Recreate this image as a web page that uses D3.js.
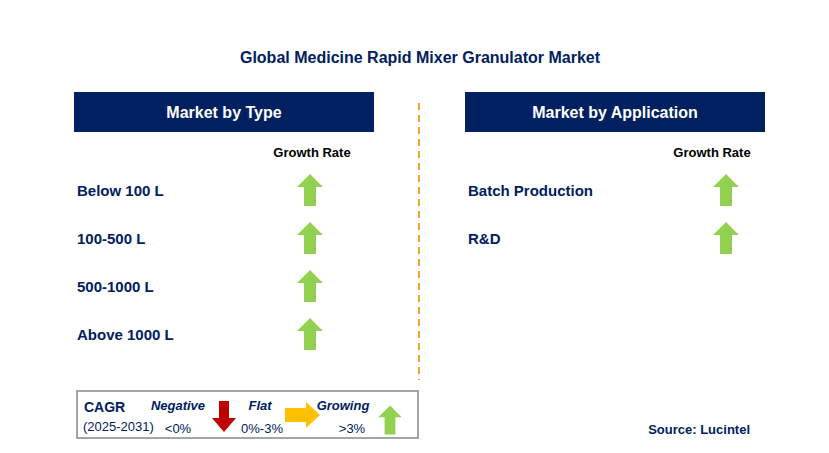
<!DOCTYPE html><html><head><meta charset="utf-8"><script src="https://cdn.jsdelivr.net/npm/d3@7"></script>
<style>body{margin:0;background:#fff}text{font-family:Arial,"Liberation Sans",sans-serif}</style></head><body>
<script>
const title="Global Medicine Rapid Mixer Granulator Market";
const panels=["Market by Type","Market by Application"];
const typeCats=["Below 100 L","100-500 L","500-1000 L","Above 1000 L"];
const typeGrowth=["up","up","up","up"];
const appCats=["Batch Production","R&D"];
const appGrowth=["up","up"];
const W=829,H=453,navy="#002060",green="#92d050";
const svg=d3.select("body").append("svg").attr("width",W).attr("height",H);
svg.append("text").attr("x",420).attr("y",63).attr("text-anchor","middle").attr("font-weight","bold").attr("font-size",16).attr("fill",navy).text(title);
const y=d3.scaleBand().domain(d3.range(4)).range([166,358]);
function up(g,cx,cy,s=1){g.append("path").attr("d",`M${cx},${cy-16*s}L${cx+13*s},${cy-3*s}L${cx+6*s},${cy-3*s}L${cx+6*s},${cy+16*s}L${cx-6*s},${cy+16*s}L${cx-6*s},${cy-3*s}L${cx-13*s},${cy-3*s}Z`).attr("fill",green);}
function panel(x0,name,cats,arrowX,grX){
  svg.append("rect").attr("x",x0).attr("y",92).attr("width",300).attr("height",40).attr("fill",navy);
  svg.append("text").attr("x",x0+150).attr("y",118).attr("text-anchor","middle").attr("fill","#fff").attr("font-weight","bold").attr("font-size",16).text(name);
  svg.append("text").attr("x",grX).attr("y",157).attr("text-anchor","middle").attr("font-weight","bold").attr("font-size",13).text("Growth Rate");
  cats.forEach((c,i)=>{const cy=y(i)+y.bandwidth()/2;
    svg.append("text").attr("x",x0+3).attr("y",cy+6).attr("font-weight","bold").attr("font-size",15).attr("fill",navy).text(c);
    up(svg,arrowX,cy);});
}
panel(74,panels[0],typeCats,310,312);
panel(465,panels[1],appCats,726,712);
svg.append("line").attr("x1",419).attr("x2",419).attr("y1",103).attr("y2",380).attr("stroke","#f0a830").attr("stroke-width",2).attr("stroke-dasharray","7,5");
svg.append("rect").attr("x",77).attr("y",391).attr("width",341).attr("height",47).attr("fill","#fff").attr("stroke","#888").attr("stroke-width",1.5);
const L=(x,yy,t,o={})=>svg.append("text").attr("x",x).attr("y",yy).attr("fill",navy).attr("font-size",o.fs||13).attr("font-weight",o.b?"bold":"normal").attr("font-style",o.i?"italic":"normal").attr("text-anchor",o.a||"start").text(t);
L(84,412,"CAGR",{b:1,fs:14});L(83,431,"(2025-2031)",{fs:13});
L(178,410,"Negative",{b:1,i:1,fs:13,a:"middle"});L(178,433,"<0%",{a:"middle"});
svg.append("path").attr("d","M219,401L229,401L229,418L236,418L224,432L212,418L219,418Z").attr("fill","#c00000");
L(260,410,"Flat",{b:1,i:1,fs:13,a:"middle"});L(262,433,"0%-3%",{a:"middle"});
svg.append("path").attr("d","M285,408L306,408L306,402L320,415L306,428L306,422L285,422Z").attr("fill","#ffc000");
L(343,410,"Growing",{b:1,i:1,fs:13,a:"middle"});L(352,433,">3%",{a:"middle"});
up(svg,390,420,0.9);
svg.append("text").attr("x",750).attr("y",434).attr("text-anchor","end").attr("font-weight","bold").attr("font-size",13).attr("fill",navy).text("Source: Lucintel");
</script></body></html>
